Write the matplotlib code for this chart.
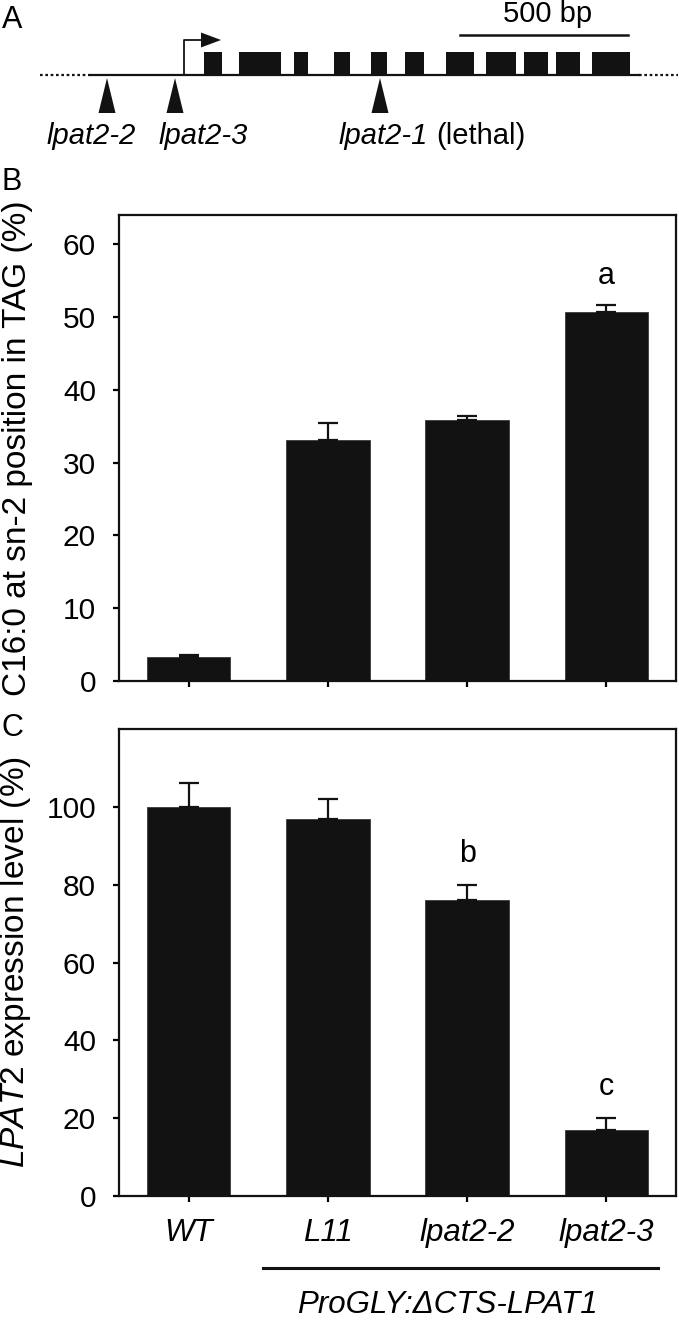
import numpy as np
import matplotlib
matplotlib.use("Agg")
import matplotlib.pyplot as plt
from matplotlib.patches import Rectangle, Polygon

plt.rcParams['font.family'] = ['Liberation Sans', 'DejaVu Sans']
plt.rcParams['mathtext.fontset'] = 'custom'
plt.rcParams['mathtext.rm'] = 'Liberation Sans'
plt.rcParams['mathtext.it'] = 'Liberation Sans:italic'

# genotypes
genotypes = ['WT', 'L11', 'lpat2-2', 'lpat2-3']

# panel B: C16:0 at sn-2 of TAG (%)
c16_mean = [3.3, 33.1, 35.9, 50.7]
c16_err = [0.3, 2.4, 0.5, 0.9]
c16_letters = ['', '', '', 'a']

# panel C: LPAT2 expression (%)
expr_mean = [100, 97, 76, 17]
expr_err = [6, 5, 4, 3]
expr_letters = ['', '', 'b', 'c']

# panel A gene model (schematic units, pixels of the figure)
exon_left = [204, 239, 294, 334, 371, 405, 446, 486, 524, 556, 592]
exon_right = [222, 281, 308, 350, 387, 424, 474, 516, 548, 580, 630]
insert_pos = [107, 175, 380]

W, H = 679, 1325
fig = plt.figure(figsize=(W / 100, H / 100), dpi=100)
ink = '#121212'

# ---- panel A: gene diagram, drawn on an overlay in pixel units ----
ax0 = fig.add_axes([0, 0, 1, 1], zorder=-1)
ax0.set_xlim(0, W)
ax0.set_ylim(H, 0)
ax0.axis('off')

gy = 75
ax0.plot([40, 91], [gy, gy], color=ink, lw=1.6, ls=(0, (1.2, 1.2)))
ax0.plot([639, 678], [gy, gy], color=ink, lw=1.6, ls=(0, (1.2, 1.2)))
ax0.plot([91, 639], [gy, gy], color=ink, lw=1.6)
for l, r in zip(exon_left, exon_right):
    ax0.add_patch(Rectangle((l, gy - 23), r - l, 23, color=ink, lw=0))
# transcription start arrow
ax0.plot([184, 184, 202], [gy, 40, 40], color=ink, lw=1.3)
ax0.add_patch(Polygon([[201, 32.5], [221, 40], [201, 47.5]], color=ink, lw=0))
# T-DNA insertions
for p in insert_pos:
    ax0.add_patch(Polygon([[p, 78], [p - 8.5, 113], [p + 8.5, 113]], color=ink, lw=0))
# scale bar
ax0.plot([460, 628], [35, 35], color=ink, lw=1.8)
ax0.text(548, 14, '500 bp', fontsize=21, ha='center', va='center')

ax0.text(91, 136, 'lpat2-2', fontsize=21, style='italic', ha='center', va='center')
ax0.text(203, 136, 'lpat2-3', fontsize=21, style='italic', ha='center', va='center')
ax0.text(428, 136, 'lpat2-1', fontsize=21, style='italic', ha='right', va='center')
ax0.text(436, 136, '(lethal)', fontsize=21, ha='left', va='center')

for lab, yy in [('A', 20), ('B', 182), ('C', 728)]:
    ax0.text(12, yy, lab, fontsize=22, ha='center', va='center')

# ---- panels B and C ----
x = np.arange(len(genotypes))
left = 119 / W
width = 557 / W
axB = fig.add_axes([left, (H - 681) / H, width, 466 / H])
axC = fig.add_axes([left, (H - 1196) / H, width, 467 / H])


def draw(ax, mean, err, letters, ymax, ticks, letter_off):
    ax.bar(x, mean, width=0.6, color=ink, edgecolor='#3a3a3a', linewidth=0.6, zorder=2)
    ax.errorbar(x, mean, yerr=[np.zeros(len(err)), err], fmt='none', ecolor=ink,
                elinewidth=1.6, capsize=7.5, capthick=1.6, zorder=3)
    for xi, m, e, t in zip(x, mean, err, letters):
        if t:
            ax.text(xi, m + e + letter_off, t, fontsize=22, ha='center', va='center')
    ax.set_xlim(-0.5, 3.5)
    ax.set_ylim(0, ymax)
    ax.set_yticks(ticks)
    ax.set_xticks(x)
    for s in ax.spines.values():
        s.set_linewidth(1.6)
        s.set_color(ink)
    ax.tick_params(axis='y', direction='out', length=4.5, width=1.6, pad=12, labelsize=21.5)
    ax.tick_params(axis='x', direction='out', length=4.5, width=1.6, pad=11, labelsize=22.5)
    ax.yaxis.set_label_coords(-0.154, 0.535)


draw(axB, c16_mean, c16_err, c16_letters, 64, np.arange(0, 61, 10), 4.0)
axB.set_xticklabels([])
axB.set_ylabel('C16:0 at sn-2 position in TAG (%)', fontsize=24)

draw(axC, expr_mean, expr_err, expr_letters, 120, np.arange(0, 101, 20), 8.0)
axC.set_xticklabels(genotypes, style='italic')
axC.set_ylabel(r'$\mathit{LPAT2}$ expression level (%)', fontsize=24)

# transgene bracket below L11 .. lpat2-3
trans = axC.get_xaxis_transform()
axC.plot([0.534, 3.37], [-0.154, -0.154], color=ink, lw=2.2, transform=trans, clip_on=False)
axC.text(1.855, -0.234, 'ProGLY:ΔCTS-LPAT1', fontsize=22.5, style='italic',
         ha='center', va='center', transform=trans)

fig.savefig('out.png', dpi=100)
